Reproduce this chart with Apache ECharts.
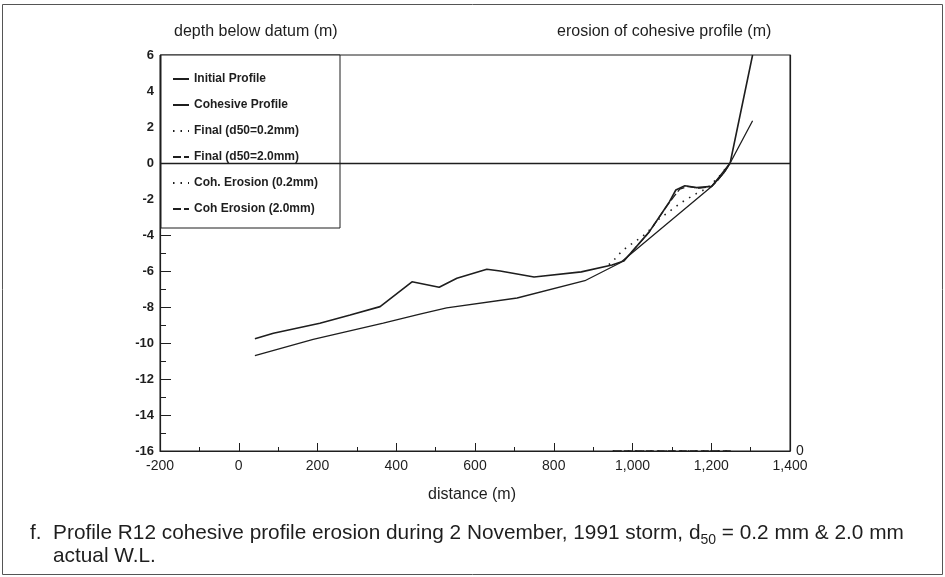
<!DOCTYPE html>
<html>
<head>
<meta charset="utf-8">
<script src="https://cdn.jsdelivr.net/npm/echarts@6/dist/echarts.min.js"></script>
<style>
html,body{margin:0;padding:0;background:#fff;}
#chart{width:945px;height:577px;}
</style>
</head>
<body>
<div id="chart"></div>
<script>
// ---- data (distance m, depth m) ----
const initialProfile = [
  [41,-9.76],[88,-9.46],[206,-8.9],[283,-8.44],[359,-7.98],[440,-6.6],[509,-6.9],
  [554,-6.4],[630,-5.9],[664,-6.0],[750,-6.33],[870,-6.05],[948,-5.67],[978,-5.44],
  [1042,-3.84],[1094,-2.15],[1110,-1.5],[1133,-1.26],[1163,-1.37],[1201,-1.3],
  [1231,-0.57],[1248,0],[1305,6]
];
const cohesiveProfile = [
  [41,-10.7],[189,-9.8],[367,-8.9],[460,-8.4],[528,-8.05],[707,-7.5],
  [879,-6.54],[969,-5.54],[1201,-1.3],[1248,0],[1305,2.35]
];
const final02 = [
  [940,-5.65],[953,-5.39],[966,-5.06],[986,-4.67],[1004,-4.4],[1024,-4.1],[1039,-3.83],
  [1066,-3.13],[1087,-2.8],[1104,-2.52],[1125,-2.18],[1142,-1.96],[1163,-1.69],
  [1190,-1.4],[1220,-0.75],[1248,0]
];
const final20 = [
  [978,-5.44],[1042,-3.84],[1090,-2.3],[1104,-1.9],[1120,-1.45],[1140,-1.3],
  [1170,-1.4],[1201,-1.3],[1215,-1.0],[1235,-0.45],[1248,0]
];
// erosion of cohesive profile (right axis) - zero along the profile
const cohErosion02 = [[950,0],[1250,0]];
const cohErosion20 = [[950,0],[1250,0]];

const seriesNames = ['Initial Profile','Cohesive Profile','Final (d50=0.2mm)','Final (d50=2.0mm)','Coh. Erosion (0.2mm)','Coh Erosion (2.0mm)'];
const xTicks = {min:-200, max:1400, step:200};
const yTicks = {min:-16, max:6, step:2};

const ink = '#1e1e1e';
const FONT = '"Liberation Sans", Arial, Helvetica, sans-serif';

const chart = echarts.init(document.getElementById('chart'), null, {renderer:'canvas'});

function lineSeries(name, data, style, yIdx, extra){
  return Object.assign({
    name, type:'line', data, yAxisIndex: yIdx||0, symbol:'none', smooth:false,
    lineStyle: Object.assign({color: ink, width:1.4}, style),
    itemStyle:{color: ink}, z: 2
  }, extra||{});
}

chart.setOption({
  animation:false,
  backgroundColor:'#fff',
  textStyle:{fontFamily:FONT},
  grid:{left:160, right:155, top:55, bottom:126, show:true, borderColor:ink, borderWidth:1, backgroundColor:'transparent'},
  xAxis:{
    type:'value', min:xTicks.min, max:xTicks.max, interval:xTicks.step,
    axisLine:{show:true, onZero:false, lineStyle:{color:ink, width:1.2}},
    axisTick:{show:true, inside:true, length:8, lineStyle:{color:ink}},
    minorTick:{show:true, splitNumber:2, length:4, lineStyle:{color:ink}},
    splitLine:{show:false},
    axisLabel:{color:ink, fontSize:14, margin:8, fontFamily:FONT,
      formatter: v => v.toLocaleString('en-US')}
  },
  yAxis:[{
    type:'value', min:yTicks.min, max:yTicks.max, interval:yTicks.step, position:'left',
    axisLine:{show:true, onZero:false, lineStyle:{color:ink, width:1.2}},
    axisTick:{show:true, inside:true, length:11, lineStyle:{color:ink}},
    minorTick:{show:true, splitNumber:2, length:6, lineStyle:{color:ink}},
    splitLine:{show:false},
    axisLabel:{color:ink, fontSize:13, fontWeight:'bold', margin:6, fontFamily:FONT}
  },{
    type:'value', min:0, max:22, interval:2, position:'right',
    axisLine:{show:true, onZero:false, lineStyle:{color:ink, width:1.2}},
    axisTick:{show:false}, splitLine:{show:false},
    axisLabel:{color:ink, fontSize:14, margin:6, fontFamily:FONT,
      formatter: v => (v === 0 ? '0' : '')}
  }],
  legend:{
    data: seriesNames, orient:'vertical', left:172, top:72, padding:0,
    itemWidth:16, itemHeight:10, itemGap:12, z:10,
    itemStyle:{opacity:0},
    textStyle:{color:ink, fontSize:12, fontWeight:'bold', lineHeight:14, fontFamily:FONT},
    selectedMode:false
  },
  graphic:{elements:[
    {type:'rect', z:5, shape:{x:161, y:55, width:179, height:173},
     style:{fill:'#fff', stroke:ink, lineWidth:1}},
    {type:'rect', z:0, silent:true, shape:{x:2.5, y:4.5, width:940, height:570},
     style:{fill:'none', stroke:'#555', lineWidth:1}},
    {type:'text', left:174, top:24, style:{text:'depth below datum (m)', font:'16px '+FONT, fill:ink}},
    {type:'text', left:557, top:24, style:{text:'erosion of cohesive profile (m)', font:'16px '+FONT, fill:ink}},
    {type:'text', left:428, top:487, style:{text:'distance (m)', font:'16px '+FONT, fill:ink}},
    {type:'text', left:30, top:523, style:{
      text:'{a|f.  Profile R12 cohesive profile erosion during 2 November, 1991 storm, d}{s|50}{a| = 0.2 mm & 2.0 mm}',
      rich:{
        a:{fontSize:20.8, fontFamily:FONT, fill:ink, color:ink, lineHeight:24, verticalAlign:'top'},
        s:{fontSize:14, fontFamily:FONT, fill:ink, color:ink, lineHeight:12, verticalAlign:'bottom'}
      }}},
    {type:'text', left:53, top:546, style:{text:'actual W.L.', font:'20.8px '+FONT, fill:ink}}
  ]},
  series:[
    lineSeries(seriesNames[0], initialProfile, {width:1.6}, 0, {
      markLine:{silent:true, symbol:['none','none'], label:{show:false},
        lineStyle:{type:'solid', color:ink, width:1.3}, data:[{yAxis:0}]}
    }),
    lineSeries(seriesNames[1], cohesiveProfile, {width:1.3}),
    lineSeries(seriesNames[2], final02, {width:1.6, type:[1.5,6]}),
    lineSeries(seriesNames[3], final20, {width:1.3, type:[8,3]}),
    lineSeries(seriesNames[4], cohErosion02, {width:1.3, type:[1.5,6]}, 1),
    lineSeries(seriesNames[5], cohErosion20, {width:1.3, type:[8,3]}, 1)
  ]
});
</script>
</body>
</html>
